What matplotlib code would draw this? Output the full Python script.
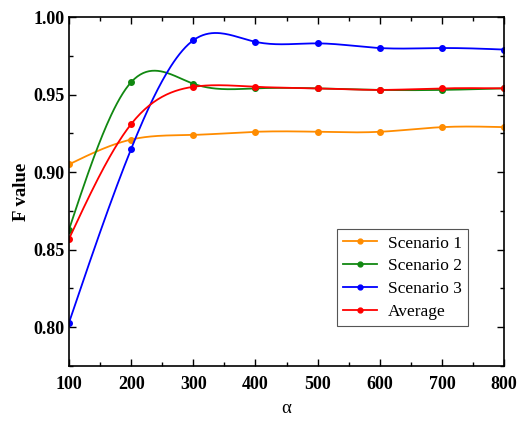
import matplotlib
matplotlib.use("Agg")
import matplotlib.pyplot as plt
import numpy as np
from matplotlib.ticker import MultipleLocator

plt.rcParams['font.family'] = ['Liberation Serif', 'DejaVu Serif']

# data
alpha = [100, 200, 300, 400, 500, 600, 700, 800]
scenario1 = [0.905, 0.921, 0.924, 0.926, 0.926, 0.926, 0.929, 0.929]
scenario2 = [0.863, 0.958, 0.957, 0.954, 0.954, 0.953, 0.953, 0.954]
scenario3 = [0.803, 0.915, 0.985, 0.984, 0.983, 0.980, 0.980, 0.979]
average = [0.857, 0.931, 0.955, 0.955, 0.954, 0.953, 0.954, 0.954]

labels = ['Scenario 1', 'Scenario 2', 'Scenario 3', 'Average']
colors = ['#FF8C00', '#118811', '#0000FF', '#FF0000']


# natural cubic spline, like Origin's spline connect
def spline(x, y, n=300):
    x = np.asarray(x, float)
    y = np.asarray(y, float)
    k = len(x)
    h = np.diff(x)
    A = np.zeros((k, k))
    b = np.zeros(k)
    A[0, 0] = A[-1, -1] = 1
    for i in range(1, k - 1):
        A[i, i - 1] = h[i - 1]
        A[i, i] = 2 * (h[i - 1] + h[i])
        A[i, i + 1] = h[i]
        b[i] = 6 * ((y[i + 1] - y[i]) / h[i] - (y[i] - y[i - 1]) / h[i - 1])
    M = np.linalg.solve(A, b)
    xs = np.linspace(x[0], x[-1], n)
    idx = np.clip(np.searchsorted(x, xs) - 1, 0, k - 2)
    x0, x1 = x[idx], x[idx + 1]
    hh = x1 - x0
    t0, t1 = x1 - xs, xs - x0
    ys = (M[idx] * t0 ** 3 / (6 * hh) + M[idx + 1] * t1 ** 3 / (6 * hh)
          + (y[idx] / hh - M[idx] * hh / 6) * t0
          + (y[idx + 1] / hh - M[idx + 1] * hh / 6) * t1)
    return xs, ys


fig = plt.figure(figsize=(5.17, 4.21), dpi=100)
ax = fig.add_axes([0.1335, 0.1306, 0.8415, 0.829])

for vals, lab, c in zip([scenario1, scenario2, scenario3, average], labels, colors):
    xs, ys = spline(alpha, vals)
    ax.plot(xs, ys, color=c, lw=1.3)
    ax.plot(alpha, vals, 'o', color=c, ms=4)
    ax.plot([], [], '-o', color=c, lw=1.3, ms=3.5, label=lab)

ax.set_xlim(100, 800)
ax.set_ylim(0.775, 1.0)
ax.xaxis.set_major_locator(MultipleLocator(100))
ax.xaxis.set_minor_locator(MultipleLocator(50))
ax.yaxis.set_major_locator(MultipleLocator(0.05))
ax.yaxis.set_minor_locator(MultipleLocator(0.025))
ax.tick_params(which='both', direction='in', top=True, right=True, width=1)
ax.tick_params(which='major', length=5, labelsize=13)
ax.tick_params(which='minor', length=3)
ax.tick_params(axis='x', pad=7)
for lbl in ax.get_xticklabels() + ax.get_yticklabels():
    lbl.set_fontweight('bold')
for s in ax.spines.values():
    s.set_linewidth(1.2)

ax.set_xlabel('α', fontsize=13.5, labelpad=5)
ax.set_ylabel('F value', fontsize=13.5, fontweight='bold', labelpad=2)

leg = ax.legend(loc='lower right', bbox_to_anchor=(0.917, 0.115), fontsize=12.5,
                fancybox=False, edgecolor='#555555', framealpha=1,
                handlelength=2.0, handletextpad=0.6, borderpad=0.35,
                labelspacing=0.38, borderaxespad=0)
leg.get_frame().set_linewidth(0.8)

fig.savefig('out.png', dpi=100)
